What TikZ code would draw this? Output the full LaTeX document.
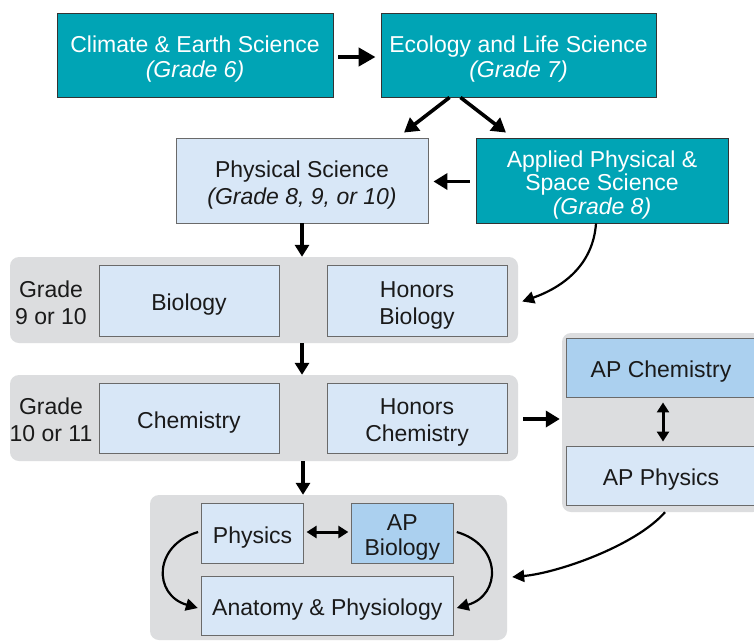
\documentclass[tikz,border=0pt]{standalone}
\usepackage{fontspec}
\setmainfont{Liberation Sans}
\usetikzlibrary{arrows.meta}
\definecolor{tealbox}{HTML}{00A4B5}
\definecolor{lightbox}{HTML}{D8E7F7}
\definecolor{midbox}{HTML}{ABD0EF}
\definecolor{grayband}{HTML}{DCDDDF}
\definecolor{edgedark}{HTML}{333333}
\definecolor{edgegray}{HTML}{6A6A6A}
\definecolor{ink}{HTML}{1A1A1A}
\newcommand{\tstrut}{\rule{0pt}{25.5pt}}
\begin{document}
\begin{tikzpicture}[x=1pt,y=-1pt,
  every node/.style={font=\fontsize{23}{27}\selectfont, align=center, inner sep=0pt},
  tealnode/.style={fill=tealbox, draw=edgedark, line width=0.9pt, text=white},
  lightnode/.style={fill=lightbox, draw=edgegray, line width=0.9pt, text=ink},
  apnode/.style={fill=midbox, draw=edgegray, line width=0.9pt, text=ink},
  band/.style={fill=grayband, rounded corners=9pt, draw=none},
  labeltext/.style={text=ink},
  bigarrow/.style={line width=4.3pt, -{Triangle[length=17pt,width=18pt]}},
  midarrow/.style={line width=3.6pt, -{Triangle[length=14pt,width=16pt]}},
  downarrow/.style={line width=3.6pt, -{Triangle[length=12pt,width=14pt]}},
  dblarrow/.style={line width=3pt, {Triangle[length=10pt,width=12pt]}-{Triangle[length=10pt,width=12pt]}},
  curvearrow/.style={line width=2.2pt, -{Triangle[length=12pt,width=12pt]}}
]
\useasboundingbox (0,0) rectangle (754,641);
\clip (0,0) rectangle (754,641);
\fill[white] (0,0) rectangle (754,641);

% bands
\node[band, minimum width=508pt, minimum height=86pt] (row1) at (264,300) {};
\node[band, minimum width=508pt, minimum height=86pt] (row2) at (264,418) {};
\node[band, minimum width=200pt, minimum height=179pt] (apgroup) at (662,422.5) {};
\node[band, minimum width=357pt, minimum height=145pt] (bottom) at (328.5,567.5) {};

% top boxes
\node[tealnode, minimum width=276pt, minimum height=84pt, font=\fontsize{23}{25}\selectfont] (climate) at (195,55)
  {\tstrut Climate \& Earth Science\\\textit{(Grade 6)}};
\node[tealnode, minimum width=275pt, minimum height=84pt, font=\fontsize{23}{25}\selectfont] (ecology) at (518.5,55)
  {\tstrut Ecology and Life Science\\\textit{(Grade 7)}};
\node[lightnode, minimum width=252pt, minimum height=85pt, font=\fontsize{23}{26.5}\selectfont] (physical) at (302,180.5)
  {\tstrut Physical Science\\\textit{(Grade 8, 9, or 10)}};
\node[tealnode, minimum width=252pt, minimum height=85pt, font=\fontsize{23}{23.5}\selectfont] (applied) at (602,180.5)
  {\tstrut Applied Physical \&\\Space Science\\\textit{(Grade 8)}};

% row 1
\node[labeltext] (grade1) at (51,302.5) {Grade\\9 or 10};
\node[lightnode, minimum width=180pt, minimum height=71pt] (biology) at (189,300.5) {\tstrut Biology};
\node[lightnode, minimum width=180pt, minimum height=71pt] (honbio) at (417,300.5) {\tstrut Honors\\Biology};

% row 2
\node[labeltext] (grade2) at (51,420) {Grade\\10 or 11};
\node[lightnode, minimum width=180pt, minimum height=70pt] (chemistry) at (189,418) {\tstrut Chemistry};
\node[lightnode, minimum width=180pt, minimum height=70pt] (honchem) at (417,418) {\tstrut Honors\\Chemistry};

% AP group
\node[apnode, minimum width=190pt, minimum height=59pt] (apchem) at (661,367.5) {\tstrut AP Chemistry};
\node[lightnode, minimum width=190pt, minimum height=59pt] (apphys) at (661,475.5) {\tstrut AP Physics};

% bottom group
\node[lightnode, minimum width=102pt, minimum height=60pt] (physics) at (252.6,533) {\tstrut Physics};
\node[apnode, minimum width=102pt, minimum height=60pt, font=\fontsize{23}{25}\selectfont] (apbio) at (402.3,533) {\tstrut AP\\Biology};
\node[lightnode, minimum width=252pt, minimum height=59pt] (anatomy) at (327.3,605.5) {\tstrut Anatomy \& Physiology};

% connectors
\draw[bigarrow] ([shift={(5pt,-2pt)}]climate.east) -- ([shift={(-5pt,-2pt)}]ecology.west);
\draw[midarrow] ([xshift=-69pt]ecology.south) -- ([shift={(102pt,5pt)}]physical.north);
\draw[midarrow] ([xshift=-58pt]ecology.south) -- ([shift={(-96pt,5pt)}]applied.north);
\draw[midarrow] ([shift={(-6pt,-1pt)}]applied.west) -- ([shift={(5pt,-1pt)}]physical.east);
\draw[downarrow] (physical.south) -- (physical.south |- row1.north);
\draw[downarrow] (row1.south -| physical.south) -- (row2.north -| physical.south);
\draw[downarrow] ([xshift=1pt]row2.south -| physical.south) -- ([xshift=1pt]bottom.north -| physical.south);
\draw[curvearrow] ([xshift=-6pt]applied.south) .. controls +(-3,42) and +(40,-14) .. ([shift={(4pt,-1.5pt)}]row1.east);
\draw[midarrow] ([shift={(5pt,-1pt)}]row2.east) -- ([shift={(-2pt,-1pt)}]row2.east -| apgroup.west);
\draw[dblarrow] ([shift={(2pt,-5pt)}]apchem.south) -- ([shift={(2pt,4pt)}]apphys.north);
\draw[curvearrow] ([xshift=3pt]apgroup.south) .. controls +(-30,34) and +(45,-4) .. ([shift={(5pt,-9.5pt)}]bottom.east);
\draw[dblarrow] ([shift={(2.5pt,1pt)}]physics.east) -- ([shift={(-2.5pt,1pt)}]apbio.west);
\draw[curvearrow] ([shift={(-3pt,1pt)}]physics.west) .. controls +(-45,13) and +(-45,-13) .. ([shift={(-3pt,-2.5pt)}]anatomy.west);
\draw[curvearrow] ([shift={(3pt,1pt)}]apbio.east) .. controls +(45,13) and +(45,-13) .. ([shift={(3pt,-2.5pt)}]anatomy.east);
\end{tikzpicture}
\end{document}
